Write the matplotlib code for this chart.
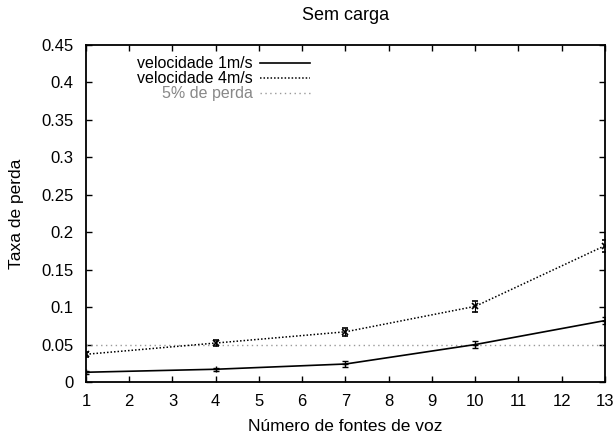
import numpy as np
import matplotlib
matplotlib.use("Agg")
import matplotlib.pyplot as plt
from matplotlib.lines import Line2D
from matplotlib.ticker import FuncFormatter, MultipleLocator

plt.rcParams['font.family'] = ['Liberation Sans', 'DejaVu Sans']

# numero de fontes de voz
fontes = [1, 4, 7, 10, 13]
# taxa de perda, velocidade 1 m/s
perda_1ms = [0.013, 0.017, 0.024, 0.050, 0.082]
erro_1ms = [0.002, 0.002, 0.004, 0.005, 0.005]
# taxa de perda, velocidade 4 m/s
perda_4ms = [0.037, 0.052, 0.067, 0.101, 0.182]
erro_4ms = [0.003, 0.004, 0.005, 0.007, 0.008]
limite = 0.05

fs = 12
fig = plt.figure(figsize=(6.16, 4.37), dpi=100)
ax = fig.add_axes([0.1396, 0.1259, 0.8425, 0.7712])

ax.errorbar(fontes, perda_1ms, yerr=erro_1ms, color='black', lw=1.2,
            ls='-', marker='+', ms=5, capsize=2, elinewidth=0.8)
ax.errorbar(fontes, perda_4ms, yerr=erro_4ms, color='black', lw=1.1,
            ls=(0, (1, 1.3)), marker='x', ms=4, mew=1.2, capsize=2,
            elinewidth=0.8)
ax.axhline(limite, color='#999999', lw=1.0, ls=(0, (1, 2.5)))

ax.set_xlim(1, 13)
ax.set_ylim(0, 0.45)
ax.xaxis.set_major_locator(MultipleLocator(1))
ax.yaxis.set_major_locator(MultipleLocator(0.05))
ax.yaxis.set_major_formatter(FuncFormatter(lambda v, p: '%g' % round(v, 2)))
ax.tick_params(direction='in', top=True, right=True, length=4,
               labelsize=fs, width=1, pad=9)
for s in ax.spines.values():
    s.set_linewidth(1.3)

ax.set_title('Sem carga', fontsize=13, pad=18)
ax.set_xlabel('Número de fontes de voz', fontsize=12.5, labelpad=7)
ax.set_ylabel('Taxa de perda', fontsize=12.5, labelpad=12)

handles = [
    Line2D([], [], color='black', lw=1.2, ls='-'),
    Line2D([], [], color='black', lw=1.1, ls=(0, (1, 1.3))),
    Line2D([], [], color='#999999', lw=1.0, ls=(0, (1, 2.5))),
]
labels = ['velocidade 1m/s', 'velocidade 4m/s', '5% de perda']
leg = ax.legend(handles, labels, loc='upper left',
                bbox_to_anchor=(0.08, 0.995), markerfirst=False,
                frameon=False, fontsize=11.5, handlelength=3.1,
                labelspacing=0.0, handletextpad=0.45, borderaxespad=0.2)
leg.get_texts()[2].set_color('#888888')

fig.savefig('out.png', dpi=100)
